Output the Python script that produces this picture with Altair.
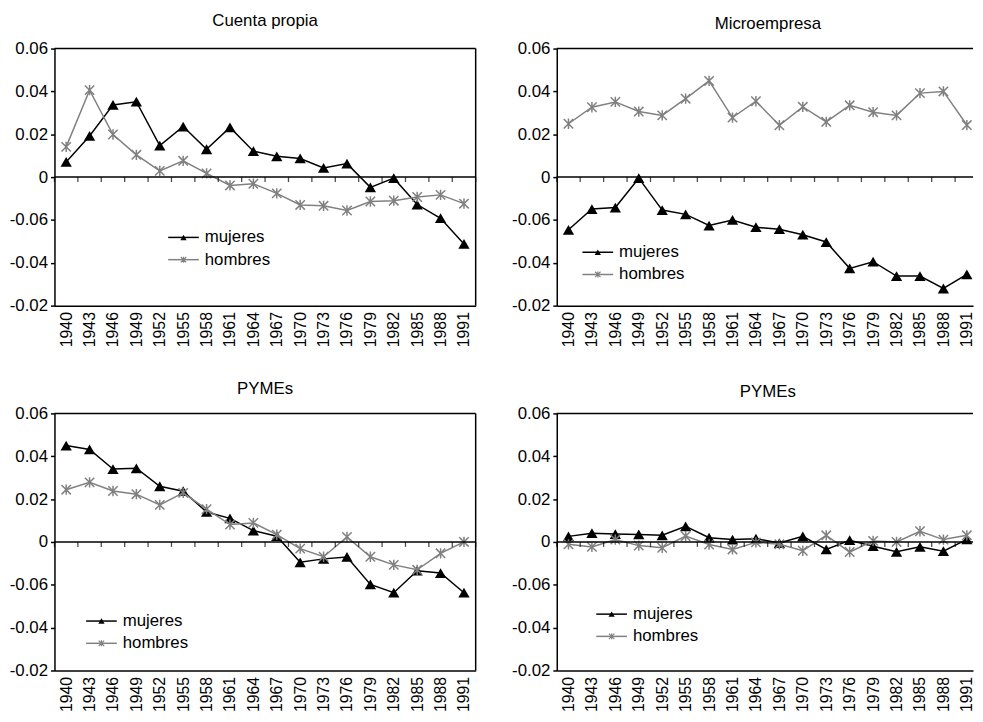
import altair as alt
import pandas as pd

# ---------------- data ----------------
years = [1940, 1943, 1946, 1949, 1952, 1955, 1958, 1961, 1964,
         1967, 1970, 1973, 1976, 1979, 1982, 1985, 1988, 1991]
series_names = ["mujeres", "hombres"]
y_tick_values = [0.06, 0.04, 0.02, 0, -0.02, -0.04, -0.06]
y_tick_labels = ["0.06", "0.04", "0.02", "0", "-0.06", "-0.04", "-0.02"]
titles = ["Cuenta propia", "Microempresa", "PYMEs", "PYMEs"]

cp_mujeres = [0.0071, 0.0192, 0.0337, 0.0352, 0.0147, 0.0236, 0.0130, 0.0232, 0.0121,
              0.0097, 0.0087, 0.0043, 0.0063, -0.0048, -0.0005, -0.0128, -0.0192, -0.0312]
cp_hombres = [0.0141, 0.0406, 0.0199, 0.0104, 0.0029, 0.0076, 0.0017, -0.0039, -0.0031,
              -0.0076, -0.0130, -0.0134, -0.0156, -0.0114, -0.0110, -0.0093, -0.0083, -0.0124]

mi_mujeres = [-0.0246, -0.0149, -0.0142, -0.0005, -0.0154, -0.0174, -0.0226, -0.0200, -0.0234,
              -0.0243, -0.0269, -0.0303, -0.0426, -0.0395, -0.0462, -0.0462, -0.0520, -0.0454]
mi_hombres = [0.0249, 0.0326, 0.0351, 0.0306, 0.0288, 0.0366, 0.0449, 0.0278, 0.0354,
              0.0242, 0.0328, 0.0258, 0.0335, 0.0303, 0.0288, 0.0392, 0.0400, 0.0243]

py1_mujeres = [0.0450, 0.0432, 0.0340, 0.0344, 0.0260, 0.0237, 0.0140, 0.0110, 0.0053,
               0.0027, -0.0095, -0.0079, -0.0070, -0.0198, -0.0237, -0.0134, -0.0145, -0.0237]
py1_hombres = [0.0244, 0.0278, 0.0238, 0.0223, 0.0173, 0.0229, 0.0153, 0.0081, 0.0089,
               0.0034, -0.0031, -0.0069, 0.0023, -0.0069, -0.0107, -0.0130, -0.0053, 0.0000]

py2_mujeres = [0.0026, 0.0041, 0.0037, 0.0035, 0.0031, 0.0073, 0.0020, 0.0011, 0.0015,
               -0.0005, 0.0026, -0.0035, 0.0008, -0.0020, -0.0046, -0.0023, -0.0043, 0.0012]
py2_hombres = [-0.0011, -0.0023, 0.0011, -0.0017, -0.0027, 0.0027, -0.0012, -0.0035, -0.0002,
               -0.0011, -0.0041, 0.0031, -0.0047, 0.0005, 0.0000, 0.0050, 0.0011, 0.0031]

# ---------------- style ----------------
BLACK = "#000000"
GRAY = "#808080"
FONT = "Liberation Sans"
STAR = "M-1,-1L1,1M-1,1L1,-1M0,-1.1L0,1.1"
H = 260

label_expr = " : ".join(
    f"abs(datum.value - ({v})) < 0.001 ? '{l}'" for v, l in zip(y_tick_values, y_tick_labels)
) + " : ''"


def panel(title, muj, hom, width, xmax, leg_x, leg_y, right_border, title_offset, title_dx):
    n = len(years)
    df = pd.DataFrame({
        "year": years * 2,
        "value": muj + hom,
        "serie": [series_names[0]] * n + [series_names[1]] * n,
    })
    half = (years[1] - years[0]) / 2
    tick_pos = [y - half for y in years] + [years[-1] + half]
    ticks_df = pd.DataFrame({"tx": [t for t in tick_pos if t <= xmax]})
    one = pd.DataFrame({"a": [0]})
    leg_df = pd.DataFrame({"serie": series_names})

    xs = alt.Scale(domain=[years[0] - half, xmax], nice=False, zero=False)
    ys = alt.Scale(domain=[min(y_tick_values), max(y_tick_values)], nice=False, zero=False)
    x_axis = alt.Axis(values=years, format="d", labelAngle=-90, ticks=False, grid=False,
                      domain=True, domainColor=BLACK, domainWidth=1.5, labelPadding=6,
                      labelFontSize=16, labelColor=BLACK, title=None, labelFont=FONT,
                      labelOverlap=False, labelFlush=False)
    y_axis = alt.Axis(values=y_tick_values, labelExpr=label_expr, tickSize=4, tickColor=BLACK,
                      tickWidth=1.5, domainColor=BLACK, domainWidth=1.5, grid=False,
                      labelFontSize=17, labelColor=BLACK, labelPadding=3, title=None,
                      labelFont=FONT)

    X = alt.X("year:Q", scale=xs, axis=x_axis)
    Y = alt.Y("value:Q", scale=ys, axis=y_axis)

    layers = []
    base = alt.Chart(df)
    # mujeres
    layers.append(base.transform_filter(alt.datum.serie == series_names[0]).mark_line(
        color=BLACK, strokeWidth=1.5).encode(x=X, y=Y))
    layers.append(base.transform_filter(alt.datum.serie == series_names[0]).mark_point(
        shape="triangle-up", filled=True, size=130, color=BLACK, opacity=1).encode(x=X, y=Y))
    # hombres
    layers.append(base.transform_filter(alt.datum.serie == series_names[1]).mark_line(
        color=GRAY, strokeWidth=1.5).encode(x=X, y=Y))
    layers.append(base.transform_filter(alt.datum.serie == series_names[1]).mark_point(
        shape=STAR, filled=False, size=90, color=GRAY, strokeWidth=1.5, opacity=1).encode(x=X, y=Y))

    # top border
    layers.append(alt.Chart(one).mark_rule(color=BLACK, strokeWidth=1.5).encode(
        y=alt.YDatum(max(y_tick_values), scale=ys, axis=y_axis)))
    if right_border:
        layers.append(alt.Chart(one).mark_rule(color=BLACK, strokeWidth=1.5).encode(
            x=alt.XDatum(xmax, scale=xs, axis=x_axis)))
    # zero line and its ticks
    layers.append(alt.Chart(one).mark_rule(color=BLACK, strokeWidth=1.5).encode(
        y=alt.YDatum(0, scale=ys, axis=y_axis)))
    layers.append(alt.Chart(ticks_df).mark_tick(orient="vertical", size=5, thickness=1.3,
                                                 yOffset=2.5, color=BLACK).encode(
        x=alt.X("tx:Q", scale=xs, axis=x_axis),
        y=alt.YDatum(0, scale=ys, axis=y_axis)))

    # legend
    for i, (name, col, shp, sz, fill) in enumerate([
        (series_names[0], BLACK, "triangle-up", 40, True),
        (series_names[1], GRAY, STAR, 30, False),
    ]):
        ld = alt.Chart(leg_df).transform_filter(alt.datum.serie == name)
        yy = leg_y + i * 22.5
        layers.append(ld.mark_rule(color=col, strokeWidth=1.5).encode(
            x=alt.value(leg_x), x2=alt.value(leg_x + 31), y=alt.value(yy)))
        layers.append(ld.mark_point(shape=shp, filled=fill, size=sz, color=col,
                                    strokeWidth=1.2, opacity=1).encode(
            x=alt.value(leg_x + 15.5), y=alt.value(yy)))
        layers.append(ld.mark_text(align="left", baseline="middle", fontSize=17, font=FONT,
                                   color=BLACK).encode(
            x=alt.value(leg_x + 37), y=alt.value(yy), text="serie:N"))

    return alt.layer(*layers).properties(
        width=width, height=H,
        title=alt.TitleParams(title, fontSize=17, font=FONT, fontWeight="normal", color=BLACK,
                              baseline="alphabetic", offset=title_offset, dx=title_dx),
    )


LEFT_W = 426
RIGHT_W = 421
right_xmax = years[0] - 1.5 + (years[-1] - years[0] + 3) * RIGHT_W / 426.6

p1 = panel(titles[0], cp_mujeres, cp_hombres, LEFT_W, years[-1] + 1.5, 115, 191, True, -3, 0)
p2 = panel(titles[1], mi_mujeres, mi_hombres, RIGHT_W, right_xmax, 26, 206, False, -6, 3)
p3 = panel(titles[2], py1_mujeres, py1_hombres, LEFT_W, years[-1] + 1.5, 32, 210, True, -6, 0)
p4 = panel(titles[3], py2_mujeres, py2_hombres, RIGHT_W, right_xmax, 40, 203, False, -9, 3)

row1 = alt.hconcat(p1, p2, spacing=35)
row2 = alt.hconcat(p3, p4, spacing=35)

chart = alt.vconcat(row1, row2, spacing=33).properties(
    padding={"left": 1, "top": 0, "right": 0, "bottom": 0}
).configure(font=FONT).configure_view(strokeWidth=0)

chart.save("out.html", embed_options={"renderer": "svg", "actions": False})
